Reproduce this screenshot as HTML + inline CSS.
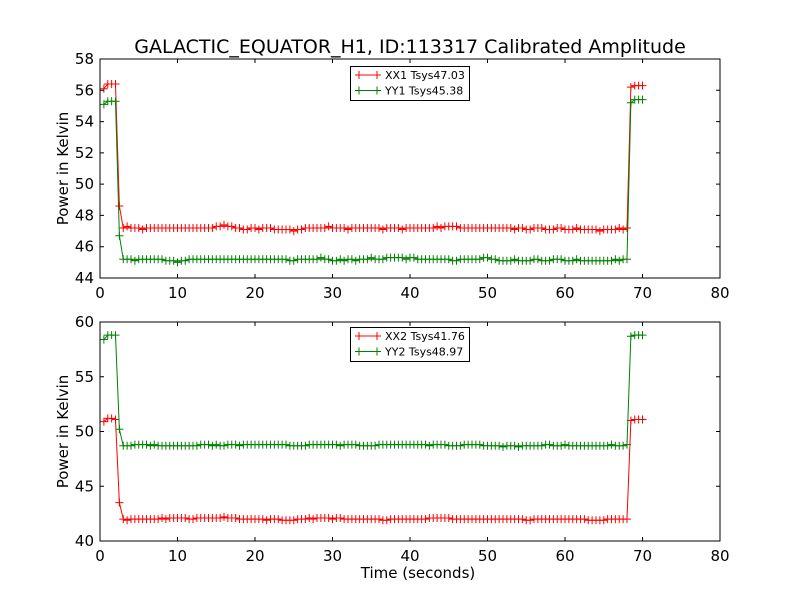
<!DOCTYPE html>
<html><head><meta charset="utf-8"><style>
body{margin:0;background:#fff}
svg{display:block;font-family:"DejaVu Sans","Liberation Sans",sans-serif}
</style></head><body>
<svg id="fig" width="800" height="600">
<rect width="800" height="600" fill="#fff"/>
<text x="410" y="53" font-size="19" text-anchor="middle">GALACTIC_EQUATOR_H1, ID:113317 Calibrated Amplitude</text>
<text x="418" y="578" font-size="15" text-anchor="middle">Time (seconds)</text>
</svg>
<script>
const xTicks=[0,10,20,30,40,50,60,70,80];
const yTicksTop=[44,46,48,50,52,54,56,58];
const yTicksBot=[40,45,50,55,60];
const tStart=0.5, tStep=0.5;
const xx1=[56.1,56.4,56.4,56.4,48.6,
47.2,47.3,47.2,47.2,47.2,47.1,47.2,47.2,47.2,47.2,47.2,47.2,47.2,47.2,
47.2,47.2,47.2,47.2,47.2,47.2,47.2,47.2,47.2,47.2,47.3,47.3,47.4,47.3,
47.3,47.2,47.2,47.1,47.1,47.2,47.2,47.1,47.2,47.2,47.2,47.1,47.1,47.1,
47.1,47.1,47.0,47.1,47.1,47.2,47.2,47.2,47.2,47.2,47.2,47.3,47.2,47.2,
47.2,47.2,47.1,47.2,47.2,47.2,47.2,47.2,47.2,47.2,47.2,47.1,47.2,47.2,
47.2,47.2,47.1,47.2,47.2,47.2,47.2,47.2,47.2,47.2,47.2,47.3,47.2,47.3,
47.3,47.3,47.3,47.2,47.2,47.2,47.2,47.2,47.2,47.2,47.2,47.2,47.2,47.2,
47.2,47.2,47.2,47.1,47.2,47.2,47.1,47.1,47.2,47.2,47.2,47.1,47.1,47.1,
47.2,47.2,47.1,47.1,47.1,47.2,47.1,47.1,47.1,47.1,47.1,47.0,47.1,47.1,
47.1,47.1,47.2,47.1,47.2,
56.2,56.3,56.3,56.3];
const yy1=[55.1,55.3,55.3,55.3,46.7,
45.2,45.2,45.2,45.1,45.2,45.2,45.2,45.2,45.2,45.2,45.2,45.1,45.1,45.1,
45.0,45.1,45.1,45.2,45.2,45.2,45.2,45.2,45.2,45.2,45.2,45.2,45.2,45.2,
45.2,45.2,45.2,45.2,45.2,45.2,45.2,45.2,45.2,45.2,45.2,45.2,45.2,45.2,
45.2,45.1,45.1,45.2,45.2,45.2,45.2,45.2,45.2,45.3,45.2,45.2,45.1,45.1,
45.2,45.1,45.2,45.2,45.1,45.2,45.2,45.2,45.3,45.2,45.2,45.2,45.3,45.3,
45.3,45.3,45.3,45.2,45.3,45.3,45.2,45.2,45.2,45.2,45.2,45.2,45.2,45.2,
45.2,45.1,45.1,45.2,45.2,45.2,45.2,45.2,45.2,45.3,45.3,45.2,45.2,45.1,
45.1,45.1,45.1,45.2,45.1,45.1,45.1,45.1,45.2,45.2,45.1,45.1,45.1,45.2,
45.2,45.2,45.1,45.1,45.1,45.2,45.1,45.1,45.1,45.1,45.1,45.1,45.1,45.1,
45.1,45.2,45.1,45.2,45.2,
55.2,55.4,55.4,55.4];
const xx2=[50.9,51.2,51.2,51.1,43.5,
42.0,41.9,42.0,42.0,42.0,42.0,42.0,42.0,42.0,42.0,42.1,42.0,42.1,42.1,
42.1,42.1,42.1,42.0,42.0,42.1,42.1,42.1,42.1,42.1,42.1,42.1,42.2,42.1,
42.1,42.1,42.0,42.0,42.0,42.0,42.0,42.0,42.0,41.9,42.0,42.0,42.0,41.9,
41.9,41.9,41.9,42.0,42.0,42.0,42.1,42.0,42.1,42.1,42.1,42.1,42.0,42.1,
42.1,42.0,42.0,42.0,42.0,42.0,42.0,42.0,42.0,42.0,42.0,41.9,41.9,42.0,
42.0,42.0,42.0,42.0,42.0,42.0,42.0,42.0,42.0,42.1,42.1,42.1,42.1,42.1,
42.1,42.0,42.0,42.0,42.0,42.0,42.0,42.0,42.0,42.0,42.0,42.0,42.0,42.0,
42.0,42.0,42.0,42.0,42.0,42.0,41.9,41.9,42.0,42.0,42.0,42.0,42.0,42.0,
42.0,42.0,42.0,42.0,42.0,42.0,42.0,42.0,41.9,41.9,41.9,41.9,41.9,42.0,
42.0,42.0,42.0,42.0,42.0,
51.0,51.1,51.1,51.1];
const yy2=[58.4,58.8,58.8,58.8,50.2,
48.7,48.7,48.7,48.8,48.8,48.8,48.8,48.7,48.8,48.7,48.7,48.7,48.7,48.7,
48.7,48.7,48.7,48.7,48.7,48.7,48.8,48.8,48.8,48.7,48.8,48.7,48.7,48.8,
48.8,48.8,48.7,48.8,48.8,48.8,48.8,48.8,48.8,48.8,48.8,48.8,48.8,48.8,
48.8,48.7,48.7,48.7,48.7,48.7,48.8,48.8,48.8,48.8,48.8,48.8,48.8,48.8,
48.7,48.8,48.8,48.8,48.8,48.7,48.7,48.7,48.7,48.7,48.8,48.8,48.8,48.8,
48.8,48.8,48.8,48.8,48.8,48.8,48.8,48.8,48.8,48.7,48.8,48.8,48.8,48.8,
48.7,48.7,48.7,48.7,48.8,48.8,48.8,48.8,48.8,48.7,48.7,48.7,48.7,48.7,
48.6,48.7,48.7,48.7,48.6,48.7,48.7,48.7,48.7,48.7,48.7,48.8,48.8,48.7,
48.7,48.7,48.8,48.7,48.7,48.7,48.7,48.7,48.7,48.7,48.7,48.7,48.7,48.7,
48.8,48.7,48.7,48.7,48.8,
58.7,58.8,58.8,58.8];

const NS="http://www.w3.org/2000/svg";
const fig=document.getElementById('fig');
function mk(tag,attrs,parent){const e=document.createElementNS(NS,tag);for(const k in attrs)e.setAttribute(k,attrs[k]);(parent||fig).appendChild(e);return e;}

function panel(name,top,bottom,ymin,ymax,yTicks,series,legendTop){
  const L=100,R=720;
  const g=mk('g',{});
  
  
  const sx=v=>L+(v-0)/(80-0)*(R-L);
  const sy=v=>bottom-(v-ymin)/(ymax-ymin)*(bottom-top);
  series.forEach(s=>{
    let d='';
    s.vals.forEach((v,i)=>{const t=tStart+tStep*i;d+=(i?'L':'M')+sx(t).toFixed(2)+' '+sy(v).toFixed(2);});
    const ln=mk('path',{d:d,fill:'none',stroke:s.color,'stroke-width':1},g);
    
    
    let md='';
    s.vals.forEach((v,i)=>{const x=sx(tStart+tStep*i),y=sy(v);md+=`M${x-4} ${y}h8M${x} ${y-4}v8`;});
    const mm=mk('path',{d:md,fill:'none',stroke:s.color,'stroke-width':1},g);
    
    
  });
  const fr=mk('rect',{x:L,y:top,width:R-L,height:bottom-top,fill:'none',stroke:'#000','stroke-width':1},g);
  
  
  xTicks.forEach(v=>{
    const x=sx(v);
    mk('path',{d:`M${x} ${bottom}v-4M${x} ${top}v4`,stroke:'#000'},g);
    const t=mk('text',{x:x,y:bottom+20,'font-size':15,'text-anchor':'middle'},g);
    
    
    t.textContent=v;
  });
  yTicks.forEach(v=>{
    const y=sy(v);
    mk('path',{d:`M${L} ${y}h4M${R} ${y}h-4`,stroke:'#000'},g);
    const t=mk('text',{x:L-6,y:y+5,'font-size':15,'text-anchor':'end'},g);
    
    
    t.textContent=v;
  });
  const yl=mk('text',{x:0,y:0,'font-size':15,'text-anchor':'middle',transform:`translate(68 ${(top+bottom)/2}) rotate(-90)`},g);
  
  
  yl.textContent='Power in Kelvin';
  const lg=mk('g',{},g);
  
  
  mk('rect',{x:350.5,y:legendTop+0.5,width:119,height:34,fill:'#fff',stroke:'#000'},lg);
  series.forEach((s,i)=>{
    const y=legendTop+9+i*15.5;
    const e=mk('g',{},lg);
    
    
    mk('path',{d:`M355 ${y}h26M359 ${y-4}v8M377 ${y-4}v8`,stroke:s.color},e);
    const t=mk('text',{x:385,y:y+4,'font-size':11},e);
    t.textContent=s.label;
  });
}
panel('top-panel',59,278,44,58,yTicksTop,[
  {id:'xx1',color:'#ff0000',vals:xx1,label:'XX1 Tsys47.03'},
  {id:'yy1',color:'#008000',vals:yy1,label:'YY1 Tsys45.38'}],66);
panel('bottom-panel',322,541,40,60,yTicksBot,[
  {id:'xx2',color:'#ff0000',vals:xx2,label:'XX2 Tsys41.76'},
  {id:'yy2',color:'#008000',vals:yy2,label:'YY2 Tsys48.97'}],327);
</script>
</body></html>
